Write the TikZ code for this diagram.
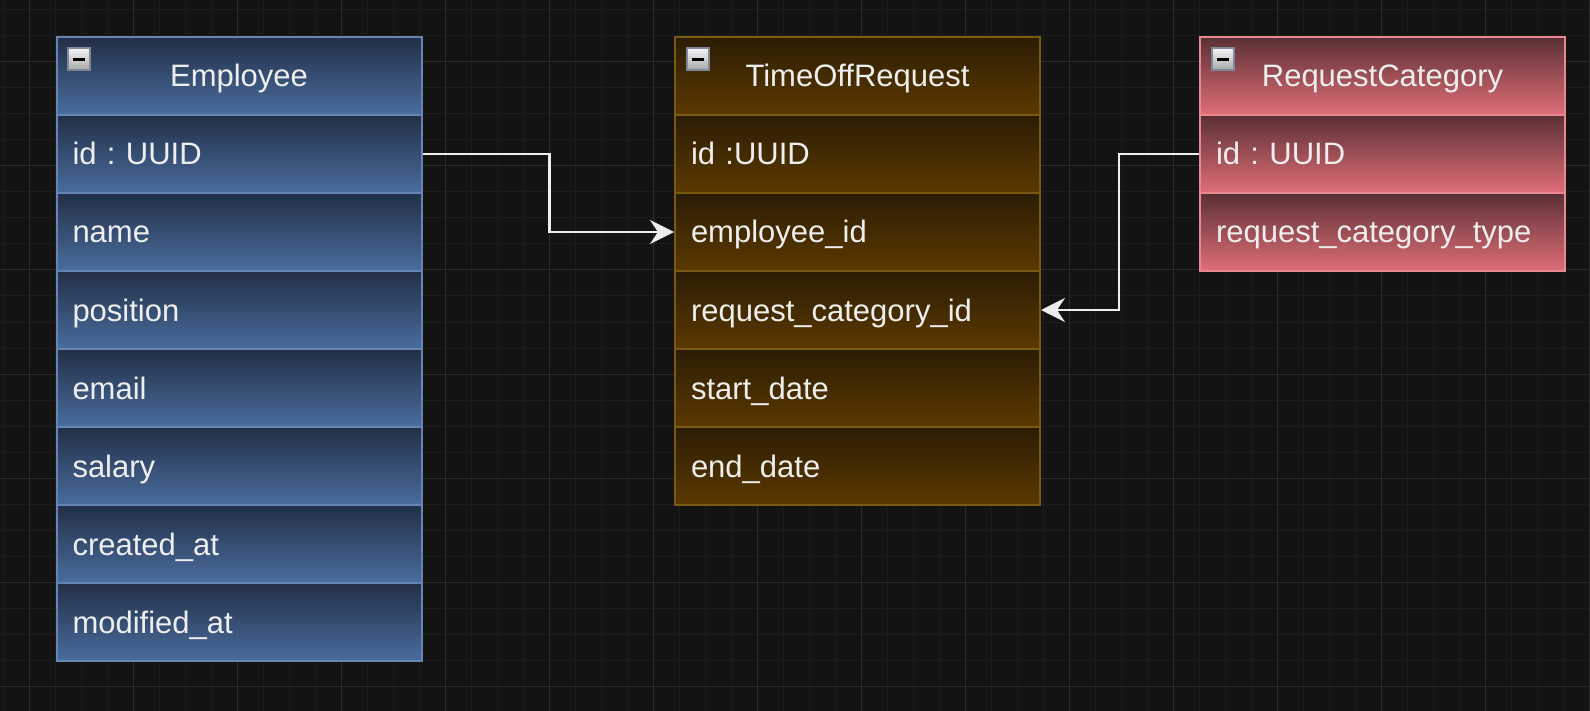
\documentclass[tikz,border=0pt]{standalone}
\usepackage{fontspec}
\setmainfont{Liberation Sans}
\frenchspacing
\usetikzlibrary{arrows.meta,calc}
\definecolor{bg}{HTML}{131313}
\definecolor{minorg}{HTML}{1C1C1C}
\definecolor{majorg}{HTML}{2B2B2B}
\definecolor{txt}{HTML}{EEEEEE}
\definecolor{empTop}{HTML}{222F47}
\definecolor{empBot}{HTML}{4A6D9E}
\definecolor{empLine}{HTML}{6585B5}
\definecolor{torTop}{HTML}{2B1D04}
\definecolor{torBot}{HTML}{5C3900}
\definecolor{torLine}{HTML}{7A5A12}
\definecolor{rcTop}{HTML}{5A3034}
\definecolor{rcBot}{HTML}{E06E78}
\definecolor{rcLine}{HTML}{EA8890}
\definecolor{iconLine}{HTML}{7E8898}
\tikzset{
  cell/.style={rectangle, anchor=north west, minimum width=365pt, minimum height=78pt,
    inner xsep=16pt, inner ysep=0pt, text width=333pt, text height=26pt, text depth=4pt,
    align=left, line width=2pt,
    text=txt, font=\fontsize{31}{37}\selectfont},
  headcell/.style={cell, align=center},
  emp/.style={draw=empLine, top color=empTop, bottom color=empBot},
  tor/.style={draw=torLine, top color=torTop, bottom color=torBot},
  rc/.style={draw=rcLine, top color=rcTop, bottom color=rcBot},
  minorline/.style={draw=minorg, line width=1pt},
  majorline/.style={draw=majorg, line width=1pt},
  conn/.style={draw=txt, line width=2.2pt, -{Stealth[length=24pt,width=24pt,inset=8pt]}},
  iconbox/.style={draw=iconLine, line width=2pt, top color=white!92!gray, bottom color=gray!70!white},
}
\newcommand{\collapseicon}[1]{%
  \path[iconbox] ($(#1.north west)+(12.5,12.5)$) rectangle ++(22,22);
  \draw[black, line width=3pt] ($(#1.north west)+(17.5,23.5)$) -- ++(12,0);
}
\begin{document}
\begin{tikzpicture}[x=1pt,y=-1pt]
\fill[bg] (0,0) rectangle (1590,711);
\useasboundingbox (0,0) rectangle (1590,711);
% grid
\foreach \k in {0,...,61} { \path[minorline] ({3.8+26*\k},0) -- ({3.8+26*\k},711); }
\foreach \k in {0,...,27} { \path[minorline] (0,{10+26*\k}) -- (1590,{10+26*\k}); }
\foreach \k in {0,...,15} { \path[majorline] ({29.8+104*\k},0) -- ({29.8+104*\k},711); }
\foreach \k in {0,...,6} { \path[majorline] (0,{62+104*\k}) -- (1590,{62+104*\k}); }

% Employee
\node[headcell, emp] (e0) at (55.5,36) {Employee};
\node[cell, emp] (e1) at (55.5,114) {id : UUID};
\node[cell, emp] (e2) at (55.5,192) {name};
\node[cell, emp] (e3) at (55.5,270) {position};
\node[cell, emp] (e4) at (55.5,348) {email};
\node[cell, emp] (e5) at (55.5,426) {salary};
\node[cell, emp] (e6) at (55.5,504) {created\_at};
\node[cell, emp] (e7) at (55.5,582) {modified\_at};
\collapseicon{e0}

% TimeOffRequest
\node[headcell, tor] (t0) at (674,36) {TimeOffRequest};
\node[cell, tor] (t1) at (674,114) {id :UUID};
\node[cell, tor] (t2) at (674,192) {employee\_id};
\node[cell, tor] (t3) at (674,270) {request\_category\_id};
\node[cell, tor] (t4) at (674,348) {start\_date};
\node[cell, tor] (t5) at (674,426) {end\_date};
\collapseicon{t0}

% RequestCategory
\node[headcell, rc] (r0) at (1199,36) {RequestCategory};
\node[cell, rc] (r1) at (1199,114) {id : UUID};
\node[cell, rc] (r2) at (1199,192) {request\_category\_type};
\collapseicon{r0}

% connectors
\draw[conn] (e1.east) -- ++(127,0) |- (t2.west);
\draw[conn] (r1.west) -- ++(-80,0) |- (t3.east);
\end{tikzpicture}
\end{document}
